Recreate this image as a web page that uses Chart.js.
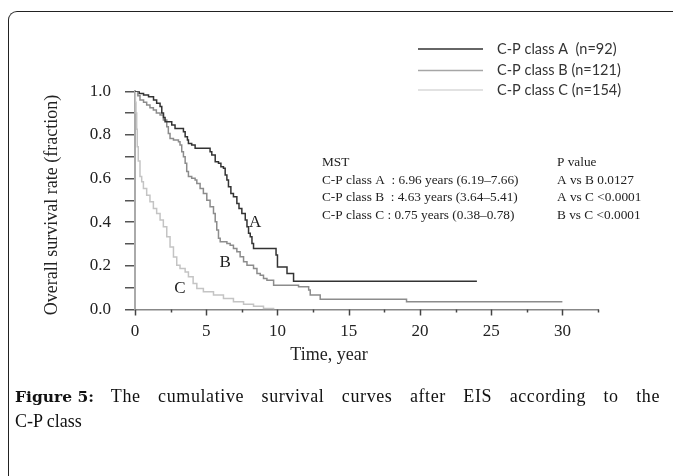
<!DOCTYPE html>
<html>
<head>
<meta charset="utf-8">
<script src="https://cdn.jsdelivr.net/npm/chart.js@4.4.0/dist/chart.umd.min.js"></script>
<style>
  html, body { margin: 0; padding: 0; background: #fff; }
  #wrap { position: relative; width: 673px; height: 476px; overflow: hidden; }
  #frame { position: absolute; left: 8px; top: 11px; width: 700px; height: 520px;
    border-left: 1.5px solid #222; border-top: 1.5px solid #222; border-top-left-radius: 9px; }
  #chart { position: absolute; left: 0; top: 0; }
  #cap { position: absolute; left: 15px; top: 384px; width: 645px;
    font-family: "Liberation Serif", serif; font-size: 18px; line-height: 24px; color: #111; }
  #cap b { display: inline-block; font-family: "DejaVu Serif", serif; font-size: 15.5px; }
  #cap .l1 { text-align: justify; text-align-last: justify; }
  #cap .l1 span { letter-spacing: 0.6px; }
</style>
</head>
<body>
<div id="wrap">
  <div id="frame"></div>
  <canvas id="chart" width="673" height="476"></canvas>
  <div id="cap">
    <div class="l1"><b>Figure 5:</b> <span>The cumulative survival curves after EIS according to the</span></div>
    <div>C-P class</div>
  </div>
</div>
<script>
// Kaplan-Meier steps (years, survival fraction)
const timeA = [0, 0.3, 0.6, 0.95, 1.3, 1.52, 1.76, 1.88, 2.0, 2.11, 2.58, 2.81, 3.4, 3.52, 3.68, 3.75, 3.98, 4.22,
  5.27, 5.39, 5.63, 5.86, 6.03, 6.21, 6.33, 6.45, 6.56, 6.73, 6.91, 7.15, 7.3, 7.5, 7.74, 7.86, 7.97, 8.09, 8.21,
  8.32, 9.9, 10.0, 10.67, 11.13, 24]
const survA = [1.0, 0.99, 0.983, 0.975, 0.96, 0.945, 0.93, 0.9, 0.88, 0.861, 0.845, 0.83, 0.815, 0.792, 0.777, 0.761,
  0.754, 0.739, 0.723, 0.708, 0.677, 0.67, 0.654, 0.647, 0.616, 0.593, 0.562, 0.532, 0.517, 0.486, 0.463, 0.44,
  0.41, 0.379, 0.35, 0.333, 0.303, 0.28, 0.25, 0.195, 0.165, 0.13, 0.13]

const timeB = [0, 0.2, 0.35, 0.6, 0.82, 1.05, 1.29, 1.5, 1.76, 1.99, 2.23, 2.34, 2.46, 2.7, 3.05, 3.16, 3.28, 3.4,
  3.52, 3.63, 3.75, 3.98, 4.22, 4.34, 4.57, 4.8, 5.04, 5.27, 5.51, 5.63, 5.74, 5.86, 5.98, 6.45, 6.68, 6.91, 7.15,
  7.38, 7.62, 7.86, 8.32, 8.56, 8.79, 9.02, 9.26, 9.73, 11.48, 12.19, 12.3, 13.0, 19.06, 30]
const survB = [1.0, 0.98, 0.96, 0.95, 0.937, 0.925, 0.914, 0.9, 0.891, 0.868, 0.838, 0.807, 0.784, 0.777, 0.769,
  0.754, 0.723, 0.7, 0.67, 0.632, 0.609, 0.601, 0.593, 0.578, 0.555, 0.532, 0.501, 0.471, 0.44, 0.402, 0.364,
  0.326, 0.31, 0.303, 0.295, 0.28, 0.265, 0.242, 0.219, 0.203, 0.188, 0.165, 0.157, 0.142, 0.134, 0.111, 0.104,
  0.089, 0.066, 0.047, 0.035, 0.035]

const timeC = [0, 0.03, 0.07, 0.12, 0.16, 0.23, 0.35, 0.47, 0.59, 0.82, 1.05, 1.29, 1.52, 1.76, 1.99, 2.23, 2.46,
  2.7, 2.93, 3.16, 3.52, 3.75, 4.08, 4.34, 4.8, 5.51, 6.21, 6.91, 7.62, 8.32, 9.02, 9.73]
const survC = [1.0, 0.95, 0.9, 0.826, 0.746, 0.68, 0.61, 0.585, 0.555, 0.524, 0.494, 0.463, 0.44, 0.41, 0.379,
  0.333, 0.287, 0.241, 0.203, 0.188, 0.172, 0.15, 0.119, 0.096, 0.081, 0.066, 0.05, 0.035, 0.024, 0.015, 0.005, 0]

const seriesLabels = ['C-P class A  (n=92)', 'C-P class B (n=121)', 'C-P class C (n=154)']
const curveLetters = [['A', 8.44, 0.40], ['B', 6.33, 0.217], ['C', 3.16, 0.098]]
const mstLines = ['MST', 'C-P class A  : 6.96 years (6.19–7.66)', 'C-P class B  : 4.63 years (3.64–5.41)',
  'C-P class C : 0.75 years (0.38–0.78)']
const pLines = ['P value', 'A vs B 0.0127', 'A vs C <0.0001', 'B vs C <0.0001']

const lineColors = ['#333333', '#8c8c8c', '#c4c4c4']
const legendColors = ['#333333', '#a6a6a6', '#e2e2e2']
const serif = 'Liberation Serif'

function pts(t, s) {
  return t.map((v, i) => ({ x: v, y: s[i] }))
}

const overlay = {
  id: 'overlay',
  afterDraw(chart) {
    const { ctx, scales: { x, y } } = chart
    ctx.save()

    // x ticks: long at every 5 years, short in between
    ctx.strokeStyle = '#444'
    ctx.lineWidth = 1.5
    x.ticks.forEach(t => {
      const px = Math.round(x.getPixelForValue(t.value)) + 0.5
      const len = t.value % 5 === 0 ? 6 : 3
      ctx.beginPath()
      ctx.moveTo(px, x.top)
      ctx.lineTo(px, x.top + len)
      ctx.stroke()
    })

    ctx.fillStyle = '#222'
    ctx.textBaseline = 'middle'

    // axis titles
    ctx.font = `18px "${serif}"`
    ctx.textAlign = 'center'
    ctx.fillText('Time, year', 329, 355)
    ctx.save()
    ctx.translate(52, 205)
    ctx.rotate(-Math.PI / 2)
    ctx.fillText('Overall survival rate (fraction)', 0, 0)
    ctx.restore()

    // curve letters
    ctx.font = `17px "${serif}"`
    curveLetters.forEach(([txt, vx, vy]) => {
      ctx.fillText(txt, x.getPixelForValue(vx), y.getPixelForValue(vy))
    })

    // MST / P value block
    ctx.font = `13.3px "${serif}"`
    ctx.textAlign = 'left'
    mstLines.forEach((s, i) => ctx.fillText(s, 322, 163 + i * 17.4))
    pLines.forEach((s, i) => ctx.fillText(s, 557, 163 + i * 17.4))

    // legend
    ctx.font = '14.5px Lato'
    ctx.fillStyle = '#333'
    seriesLabels.forEach((s, i) => {
      const ly = [49, 70.5, 90][i]
      ctx.strokeStyle = legendColors[i]
      ctx.lineWidth = i === 2 ? 2 : 1.4
      ctx.beginPath()
      ctx.moveTo(418, ly)
      ctx.lineTo(483, ly)
      ctx.stroke()
      ctx.fillText(s, 497, ly)
    })
    ctx.restore()
  },
}

new Chart(document.getElementById('chart'), {
  type: 'line',
  data: {
    datasets: [
      { label: seriesLabels[0], data: pts(timeA, survA), borderColor: lineColors[0] },
      { label: seriesLabels[1], data: pts(timeB, survB), borderColor: lineColors[1] },
      { label: seriesLabels[2], data: pts(timeC, survC), borderColor: lineColors[2] },
    ],
  },
  options: {
    responsive: false,
    animation: false,
    events: [],
    layout: { padding: { left: 0, top: 91.3, right: 75, bottom: 106.5 } },
    elements: {
      line: { stepped: true, borderWidth: 1.5, fill: false },
      point: { radius: 0 },
    },
    plugins: { legend: { display: false }, tooltip: { enabled: false } },
    scales: {
      x: {
        type: 'linear',
        min: 0,
        max: 32.5,
        afterFit: s => { s.height = 60 },
        grid: { display: false },
        border: { color: '#888', width: 1.5 },
        ticks: {
          stepSize: 2.5,
          autoSkip: false,
          maxRotation: 0,
          padding: 4,
          color: '#222',
          font: { family: serif, size: 17 },
          callback: v => (v % 5 === 0 ? v : ''),
        },
      },
      y: {
        min: 0,
        max: 1,
        afterFit: s => { s.width = 135 },
        grid: { drawOnChartArea: false, tickLength: 10, tickColor: '#555', lineWidth: 1.5 },
        border: { color: '#aaa', width: 2 },
        ticks: {
          stepSize: 0.1,
          autoSkip: false,
          padding: 14,
          color: '#222',
          font: { family: serif, size: 17 },
          callback: v => (Math.round(v * 10) % 2 === 0 ? v.toFixed(1) : ''),
        },
      },
    },
  },
  plugins: [overlay],
})
</script>
</body>
</html>
